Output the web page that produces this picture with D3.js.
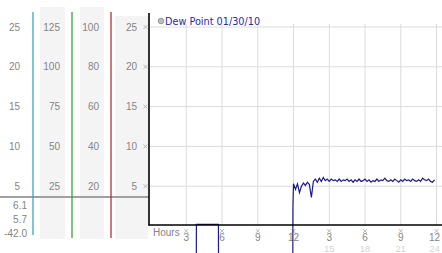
<!DOCTYPE html>
<html>
<head>
<meta charset="utf-8">
<script src="https://cdn.jsdelivr.net/npm/d3@7"></script>
<style>
  body { margin: 0; background: #fff; }
  svg { display: block; }
  text { font-family: "Liberation Sans", Arial, sans-serif; }
</style>
</head>
<body>
<div id="chart"></div>
<script>
// data
var legendTitle = "Dew Point 01/30/10";
var yTicks = [5, 10, 15, 20, 25];
var col1Labels = ["5", "10", "15", "20", "25"];
var col2Labels = ["25", "50", "75", "100", "125"];
var col3Labels = ["20", "40", "60", "80", "100"];
var col4Labels = ["5", "10", "15", "20", "25"];
var statLabels = ["6.1", "5.7", "-42.0"];
var hourTicks = [3, 6, 9, 12, 15, 18, 21, 24];
var hourTop = ["3", "6", "9", "12", "3", "6", "9", "12"];
var hourBottom = ["", "", "", "", "15", "18", "21", "24"];

// minutes since midnight / dew point (F)
var minutes = [0, 229, 231, 342, 345, 714, 717, 720,
  730, 740, 750, 760, 770, 780, 790, 800, 810, 820, 830, 840, 850, 860, 870, 880, 890,
  900, 910, 920, 930, 940, 950, 960, 970, 980, 990, 1000, 1010, 1020, 1030, 1040, 1050,
  1060, 1070, 1080, 1090, 1100, 1110, 1120, 1130, 1140, 1150, 1160, 1170, 1180, 1190,
  1200, 1210, 1220, 1230, 1240, 1250, 1260, 1270, 1280, 1290, 1300, 1310, 1320, 1330,
  1340, 1350, 1360, 1370, 1380, 1390, 1400, 1410, 1420, 1430];
var dewPoint = [-42, -42, 0.2, 0.2, -42, -42, 2.3, 5.3,
  4.6, 5.3, 4.2, 5.0, 5.4, 5.1, 5.5, 5.2, 3.6, 5.6, 5.9, 5.5, 6.0, 5.6, 6.1, 5.7, 5.9,
  5.6, 5.9, 5.7, 5.8, 5.6, 5.9, 5.6, 5.8, 5.7, 5.9, 5.6, 5.8, 5.5, 5.8, 5.6, 5.9,
  5.6, 5.7, 5.9, 5.6, 5.8, 5.5, 5.7, 5.6, 5.9, 5.6, 5.8, 5.7, 6.0, 5.7,
  5.6, 5.8, 5.6, 5.9, 5.7, 5.5, 5.8, 5.6, 5.9, 5.7, 5.8, 5.6, 5.9, 5.7,
  5.6, 5.8, 5.6, 6.0, 5.8, 5.7, 5.9, 5.6, 5.5, 5.8];

var W = 442, H = 253;

var x = d3.scaleLinear().domain([0, 24]).range([150.5, 436.5]);
var y = d3.scaleLinear().domain([0, 25]).range([226, 27]);

var svg = d3.select("#chart")
    .append("svg")
        .attr("width", W)
        .attr("height", H);

// small cross-hatch tick marker
const marker = (sel, cx, cy) => {
    var g = sel.append("g")
        .attr("transform", `translate(${cx}, ${cy})`)
        .attr("stroke", "#aaa")
        .attr("stroke-width", 0.8);
    g.append("line").attr("x1", -2).attr("y1", -2).attr("x2", 2).attr("y2", 2);
    g.append("line").attr("x1", -2).attr("y1", 2).attr("x2", 2).attr("y2", -2);
};

// left side columns
var bands = [
    { x0: 40, x1: 65, top: 7 },
    { x0: 80, x1: 104, top: 7 },
    { x0: 115, x1: 148, top: 16 }
];
svg.selectAll("rect.band")
    .data(bands)
    .enter()
    .append("rect")
        .attr("x", d => d.x0)
        .attr("y", d => d.top)
        .attr("width", d => d.x1 - d.x0)
        .attr("height", d => 239 - d.top)
        .attr("fill", "#f4f4f4");

// grey divider
svg.append("line")
    .attr("x1", 0).attr("x2", 149)
    .attr("y1", 197).attr("y2", 197)
    .attr("stroke", "#a0a0a0")
    .attr("stroke-width", 2);

// colored axis lines
var colLines = [
    { x: 33, color: "#3aa6c6", bottom: 235 },
    { x: 72, color: "#3aa33a", bottom: 238 },
    { x: 111, color: "#b03434", bottom: 238 }
];
svg.selectAll("line.col")
    .data(colLines)
    .enter()
    .append("line")
        .attr("x1", d => d.x).attr("x2", d => d.x)
        .attr("y1", 12).attr("y2", d => d.bottom)
        .attr("stroke", d => d.color)
        .attr("stroke-width", 1.3);

var columns = [
    { labels: col1Labels, right: 20 },
    { labels: col2Labels, right: 60 },
    { labels: col3Labels, right: 99 },
    { labels: col4Labels, right: 137 }
];
columns.forEach(col => {
    svg.selectAll(null)
        .data(yTicks)
        .enter()
        .append("text")
            .attr("x", col.right)
            .attr("y", d => y(d) + 3.6)
            .attr("text-anchor", "end")
            .attr("font-size", "10px")
            .attr("fill", "#858585")
            .text((d, i) => col.labels[i]);
});

svg.selectAll(null)
    .data(statLabels)
    .enter()
    .append("text")
        .attr("x", 27)
        .attr("y", (d, i) => 208.5 + i * 14)
        .attr("text-anchor", "end")
        .attr("font-size", "10px")
        .attr("fill", "#858585")
        .text(d => d);

// y tick markers
yTicks.forEach(d => marker(svg, 145.5, y(d)));

// grid
svg.selectAll("line.hgrid")
    .data(yTicks)
    .enter()
    .append("line")
        .attr("x1", 150).attr("x2", W)
        .attr("y1", d => y(d)).attr("y2", d => y(d))
        .attr("stroke", "#dcdcdc");

svg.selectAll("line.vgrid")
    .data(hourTicks)
    .enter()
    .append("line")
        .attr("x1", d => x(d)).attr("x2", d => x(d))
        .attr("y1", 24).attr("y2", 225)
        .attr("stroke", "#dcdcdc");

// x tick labels
hourTicks.forEach(d => marker(svg, x(d), 231));

svg.selectAll(null)
    .data(hourTicks)
    .enter()
    .append("text")
        .attr("x", d => x(d) - (d === 24 ? 2 : 0))
        .attr("y", 241)
        .attr("text-anchor", "middle")
        .attr("font-size", "10px")
        .attr("fill", "#858585")
        .text((d, i) => hourTop[i]);

svg.selectAll(null)
    .data(hourTicks)
    .enter()
    .append("text")
        .attr("x", d => x(d) - (d === 24 ? 2 : 0))
        .attr("y", 252)
        .attr("text-anchor", "middle")
        .attr("font-size", "9.5px")
        .attr("fill", "#d4d4d4")
        .text((d, i) => hourBottom[i]);

svg.append("text")
    .attr("x", 153)
    .attr("y", 236)
    .attr("font-size", "10px")
    .attr("fill", "#858585")
    .text("Hours");

// data line
var points = minutes.map((m, i) => ({ h: m / 60, v: dewPoint[i] }));
var line = d3.line()
    .x(d => x(d.h))
    .y(d => y(d.v));

svg.append("path")
    .datum(points)
    .attr("d", line)
    .attr("fill", "none")
    .attr("stroke", "#1c1c8a")
    .attr("stroke-width", 1.2);

// axes
svg.append("line")
    .attr("x1", 149).attr("x2", 149)
    .attr("y1", 13).attr("y2", 225.5)
    .attr("stroke", "#000")
    .attr("stroke-width", 1.6);
svg.append("line")
    .attr("x1", 148.5).attr("x2", W)
    .attr("y1", 225).attr("y2", 225)
    .attr("stroke", "#000")
    .attr("stroke-width", 1.6);

// legend
svg.append("circle")
    .attr("cx", 161).attr("cy", 21).attr("r", 2.8)
    .attr("fill", "#bbb")
    .attr("stroke", "#999");
svg.append("text")
    .attr("x", 165)
    .attr("y", 25)
    .style("font-family", "'DejaVu Sans', Verdana, sans-serif")
    .attr("font-size", "9.7px")
    .attr("fill", "#2a2aa8")
    .text(legendTitle);
</script>
</body>
</html>
